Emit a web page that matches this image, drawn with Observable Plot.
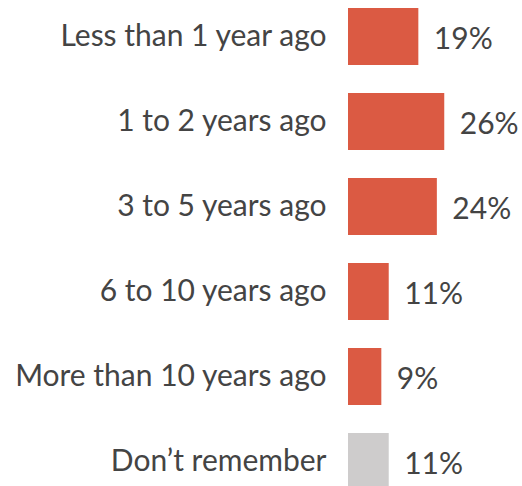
<!DOCTYPE html>
<html>
<head>
<meta charset="utf-8">
<script src="https://cdn.jsdelivr.net/npm/d3@7"></script>
<script src="https://cdn.jsdelivr.net/npm/@observablehq/plot@0.6"></script>
<style>
  html, body { margin: 0; padding: 0; background: #fff; overflow: hidden; }
  #chart svg { display: block; }
</style>
</head>
<body>
<div id="chart"></div>
<script>
const categories = ["Less than 1 year ago", "1 to 2 years ago", "3 to 5 years ago", "6 to 10 years ago", "More than 10 years ago", "Don\u2019t remember"];
const values = [19, 26, 24, 11, 9, 11];
const valueLabels = ["19%", "26%", "24%", "11%", "9%", "11%"];
const groups = ["answer", "answer", "answer", "answer", "answer", "unknown"];

const data = categories.map((c, i) => ({category: c, value: values[i], label: valueLabels[i], group: groups[i]}));

const chart = Plot.plot({
  width: 522,
  height: 492,
  marginTop: 6,
  marginBottom: 0,
  marginLeft: 348,
  marginRight: 0,
  style: {fontFamily: "Lato, 'Open Sans', sans-serif", fontSize: "30px", color: "#444"},
  x: {domain: [0, 47], axis: null},
  y: {domain: categories, paddingInner: 0.335, paddingOuter: 0, axis: null},
  color: {domain: ["answer", "unknown"], range: ["#db5a43", "#cecccc"]},
  marks: [
    Plot.barX(data, {x: "value", y: "category", fill: "group"}),
    Plot.text(data, {x: 0, y: "category", text: "category", textAnchor: "end", dx: -22, dy: -1, fill: "#444", fontSize: 30}),
    Plot.text(data, {x: "value", y: "category", text: "label", textAnchor: "start", dx: 15, dy: 2, fill: "#444", fontSize: 30})
  ]
});
document.getElementById("chart").append(chart);
</script>
</body>
</html>
